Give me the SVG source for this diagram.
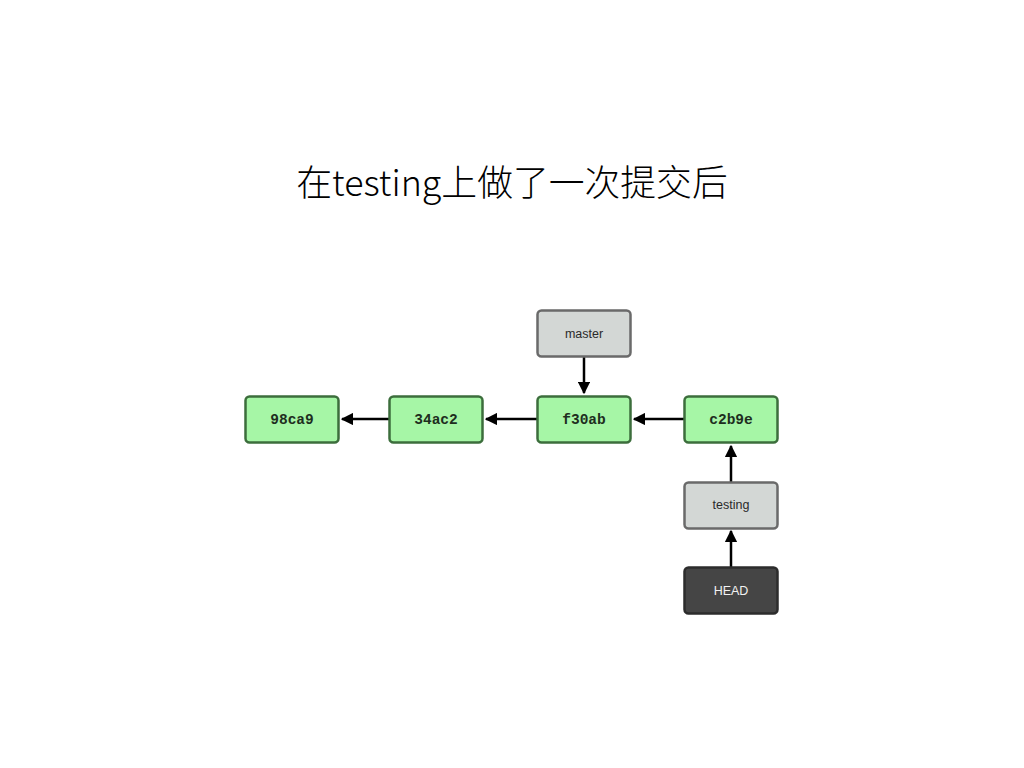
<svg xmlns="http://www.w3.org/2000/svg" width="1024" height="768" viewBox="0 0 1024 768">
<defs>
<style>
.commit rect{fill:#a6f6a6;stroke:#3c6e3c;stroke-width:2.5}
.commit text{font-family:"Liberation Mono","DejaVu Sans Mono",monospace;font-weight:bold;font-size:14.5px;fill:#1e2e1e;text-anchor:middle}
.ref rect{fill:#d3d7d5;stroke:#6a6a6a;stroke-width:2.5}
.ref text{font-family:"Liberation Sans",Arial,sans-serif;font-size:12.5px;fill:#2a2a2a;text-anchor:middle}
.head rect{fill:#454545;stroke:#2c2c2c;stroke-width:2.5}
.head text{font-family:"Liberation Sans",Arial,sans-serif;font-size:12.5px;fill:#f2f2f2;text-anchor:middle}
.conn line{stroke:#000;stroke-width:2.5}
.title{font-family:"Noto Sans CJK SC","Noto Sans",sans-serif;font-size:35.8px;font-weight:300;fill:#000;text-anchor:middle}
</style>
<marker id="ah" viewBox="0 0 10 10" refX="9" refY="5" markerWidth="5" markerHeight="5" markerUnits="strokeWidth" orient="auto">
<path d="M0,0 L10,5 L0,10 z" fill="#000"/>
</marker>
</defs>
<rect width="1024" height="768" fill="#fff"/>
<text class="title" x="512" y="196">在testing上做了一次提交后</text>
<g class="conn">
<line x1="389" y1="419" x2="342" y2="419" marker-end="url(#ah)"/>
<line x1="537" y1="419" x2="486" y2="419" marker-end="url(#ah)"/>
<line x1="684" y1="419" x2="634" y2="419" marker-end="url(#ah)"/>
<line x1="584" y1="356" x2="584" y2="393" marker-end="url(#ah)"/>
<line x1="731" y1="482" x2="731" y2="446" marker-end="url(#ah)"/>
<line x1="731" y1="567" x2="731" y2="531" marker-end="url(#ah)"/>
</g>
<g id="c98ca9" class="commit"><rect x="245.5" y="396.5" width="93" height="46" rx="4"/><text x="292" y="424">98ca9</text></g>
<g id="c34ac2" class="commit"><rect x="389.5" y="396.5" width="93" height="46" rx="4"/><text x="436" y="424">34ac2</text></g>
<g id="cf30ab" class="commit"><rect x="537.5" y="396.5" width="93" height="46" rx="4"/><text x="584" y="424">f30ab</text></g>
<g id="cc2b9e" class="commit"><rect x="684.5" y="396.5" width="93" height="46" rx="4"/><text x="731" y="424">c2b9e</text></g>
<g id="master" class="ref"><rect x="537.5" y="310.5" width="93" height="46" rx="4"/><text x="584" y="337.5">master</text></g>
<g id="testing" class="ref"><rect x="684.5" y="482.5" width="93" height="46" rx="4"/><text x="731" y="508.5">testing</text></g>
<g id="HEAD" class="head"><rect x="684.5" y="567.5" width="93" height="46" rx="4"/><text x="731" y="594.5">HEAD</text></g>
</svg>
